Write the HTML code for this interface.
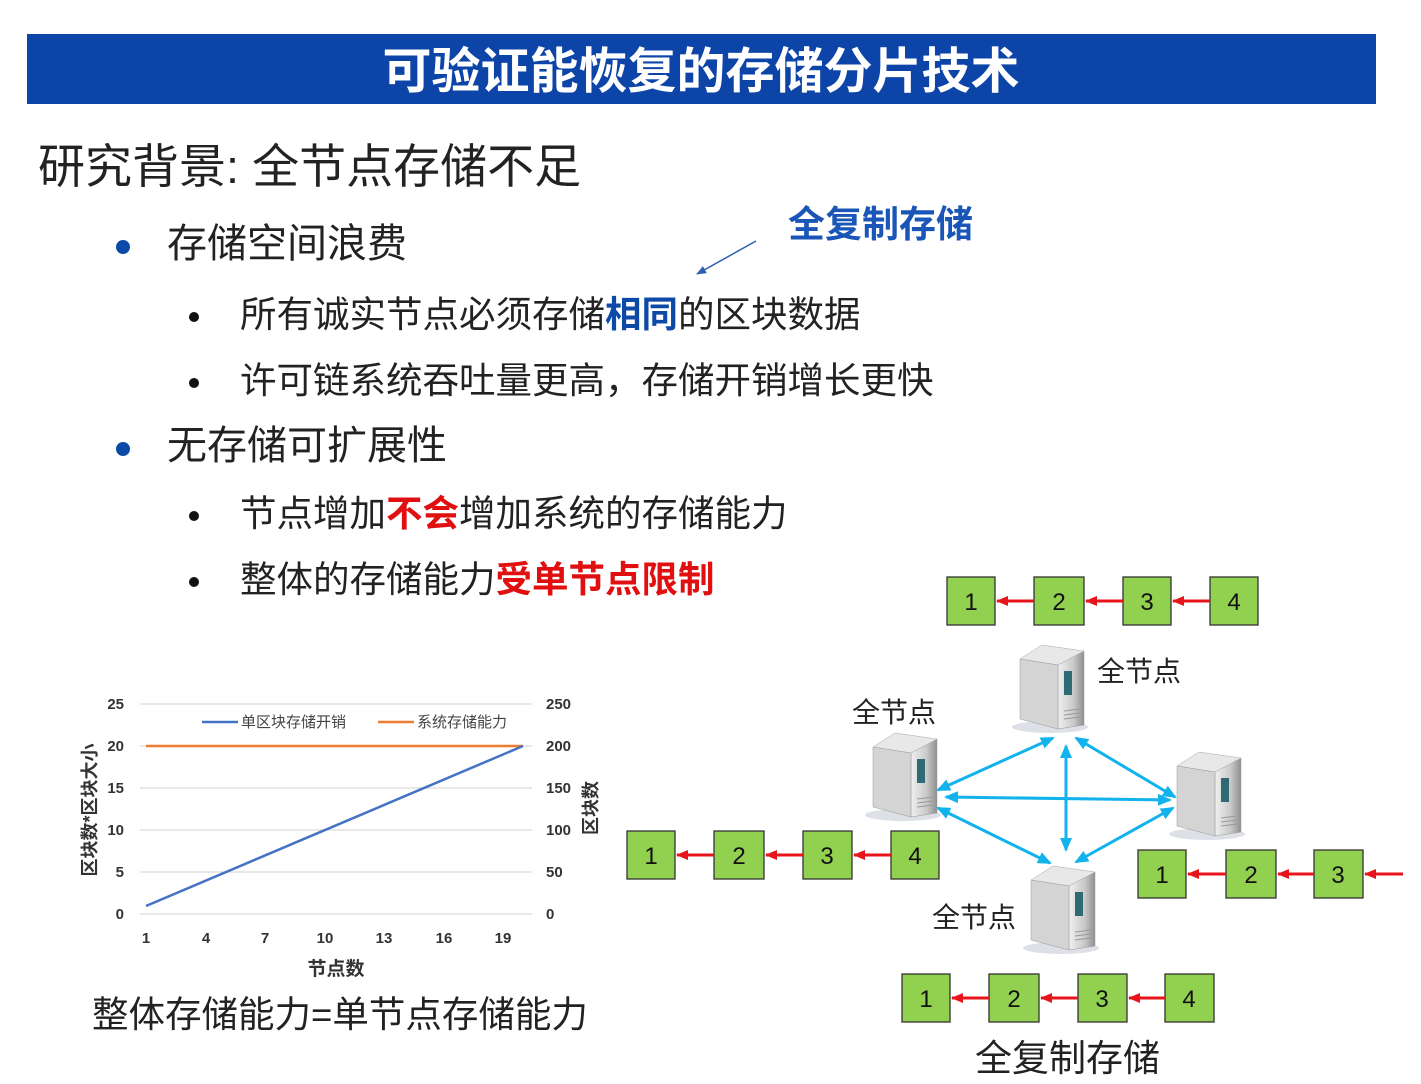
<!DOCTYPE html>
<html><head><meta charset="utf-8"><style>
body{margin:0;background:#fff;}
svg{display:block}
text{font-family:"Liberation Sans","Noto Sans CJK SC",sans-serif;}
</style></head><body>
<svg width="1421" height="1084" viewBox="0 0 1421 1084" xmlns="http://www.w3.org/2000/svg">
<defs>
<marker id="ra" markerWidth="12" markerHeight="10" refX="11" refY="5" orient="auto" markerUnits="userSpaceOnUse"><path d="M0,0 L12,5 L0,10 z" fill="#e8141c"/></marker>
<marker id="ba" markerWidth="14" markerHeight="12" refX="12" refY="6" orient="auto-start-reverse" markerUnits="userSpaceOnUse"><path d="M0,0 L14,6 L0,12 z" fill="#12b3ec"/></marker>
<marker id="na" markerWidth="10" markerHeight="10" refX="9" refY="5" orient="auto" markerUnits="userSpaceOnUse"><path d="M0,1 L10,5 L0,9 z" fill="#2e5fb0"/></marker>
<linearGradient id="sg" x1="0" x2="1"><stop offset="0" stop-color="#f0f0f0"/><stop offset="0.6" stop-color="#c9c9c9"/><stop offset="1" stop-color="#8f8f8f"/></linearGradient>
<linearGradient id="sg2" x1="0" x2="1"><stop offset="0" stop-color="#bdbdbd"/><stop offset="1" stop-color="#e6e6e6"/></linearGradient>
<g id="srv">
<ellipse cx="30" cy="82" rx="38" ry="6" fill="#c8ccd8" opacity="0.6"/>
<path d="M0,14 L22,0 L64,6 L64,80 L38,84 L0,74 z" fill="url(#sg2)"/>
<path d="M38,20 L64,6 L64,80 L38,84 z" fill="url(#sg)" stroke="#999" stroke-width="0.5"/>
<path d="M0,14 L22,0 L64,6 L38,20 z" fill="#e8e8e8" stroke="#aaa" stroke-width="0.5"/>
<path d="M0,14 L38,20 L38,84 L0,74 z" fill="#d4d4d4" stroke="#999" stroke-width="0.5"/>
<rect x="44" y="26" width="8" height="24" fill="#2f6a74"/>
<path d="M44,66 L60,64 M44,70 L60,68 M44,74 L60,72" stroke="#999" stroke-width="1"/>
</g>
</defs>

<rect x="27" y="34" width="1349" height="70" fill="#0d44a8"/>
<text x="701" y="88" font-size="49" font-weight="bold" fill="#fff" text-anchor="middle">可验证能恢复的存储分片技术</text>

<text x="38" y="183" font-size="47" fill="#222">研究背景: 全节点存储不足</text>

<circle cx="123" cy="247" r="7" fill="#0d4aa8"/>
<text x="167" y="257" font-size="40" fill="#222">存储空间浪费</text>
<circle cx="194" cy="317" r="5" fill="#111"/>
<text x="240" y="327" font-size="36.5" fill="#222">所有诚实节点必须存储<tspan fill="#0d4aa8" font-weight="bold">相同</tspan>的区块数据</text>
<circle cx="194" cy="383" r="5" fill="#111"/>
<text x="240" y="393" font-size="36.5" fill="#222">许可链系统吞吐量更高，存储开销增长更快</text>
<circle cx="123" cy="449" r="7" fill="#0d4aa8"/>
<text x="167" y="459" font-size="40" fill="#222">无存储可扩展性</text>
<circle cx="194" cy="516" r="5" fill="#111"/>
<text x="240" y="526" font-size="36.5" fill="#222">节点增加<tspan fill="#e01010" font-weight="bold">不会</tspan>增加系统的存储能力</text>
<circle cx="194" cy="582" r="5" fill="#111"/>
<text x="240" y="592" font-size="36.5" fill="#222">整体的存储能力<tspan fill="#e01010" font-weight="bold">受单节点限制</tspan></text>

<text x="788" y="237" font-size="37" font-weight="bold" fill="#1a56b8">全复制存储</text>
<line x1="756" y1="241" x2="697" y2="274" stroke="#2e5fb0" stroke-width="1.5" marker-end="url(#na)"/>

<!-- chart -->
<g stroke="#d9d9d9" stroke-width="1.2">
<line x1="140" y1="704" x2="532" y2="704"/><line x1="140" y1="746" x2="532" y2="746"/>
<line x1="140" y1="788" x2="532" y2="788"/><line x1="140" y1="830" x2="532" y2="830"/>
<line x1="140" y1="872" x2="532" y2="872"/><line x1="140" y1="914" x2="532" y2="914"/>
</g>
<g font-size="15" font-weight="bold" fill="#333" font-family="Liberation Serif">
<text x="124" y="709" text-anchor="end">25</text><text x="124" y="751" text-anchor="end">20</text>
<text x="124" y="793" text-anchor="end">15</text><text x="124" y="835" text-anchor="end">10</text>
<text x="124" y="877" text-anchor="end">5</text><text x="124" y="919" text-anchor="end">0</text>
<text x="546" y="709">250</text><text x="546" y="751">200</text><text x="546" y="793">150</text>
<text x="546" y="835">100</text><text x="546" y="877">50</text><text x="546" y="919">0</text>
<text x="146" y="943" text-anchor="middle">1</text><text x="206" y="943" text-anchor="middle">4</text>
<text x="265" y="943" text-anchor="middle">7</text><text x="325" y="943" text-anchor="middle">10</text>
<text x="384" y="943" text-anchor="middle">13</text><text x="444" y="943" text-anchor="middle">16</text>
<text x="503" y="943" text-anchor="middle">19</text>
</g>
<line x1="146" y1="746" x2="523" y2="746" stroke="#ed7d31" stroke-width="2.5"/>
<line x1="146" y1="906" x2="523" y2="746" stroke="#4472c4" stroke-width="2.5"/>
<line x1="202" y1="722" x2="238" y2="722" stroke="#4472c4" stroke-width="2.5"/>
<text x="241" y="727" font-size="15" fill="#444">单区块存储开销</text>
<line x1="378" y1="722" x2="414" y2="722" stroke="#ed7d31" stroke-width="2.5"/>
<text x="417" y="727" font-size="15" fill="#444">系统存储能力</text>
<text transform="translate(96,810) rotate(-90)" font-size="18" font-weight="bold" fill="#333" text-anchor="middle">区块数*区块大小</text>
<text transform="translate(597,808) rotate(-90)" font-size="18" font-weight="bold" fill="#333" text-anchor="middle">区块数</text>
<text x="336" y="975" font-size="19" font-weight="bold" fill="#333" text-anchor="middle">节点数</text>
<text x="92" y="1027" font-size="36.5" fill="#222">整体存储能力=单节点存储能力</text>

<!-- block chains -->
<g stroke="#333" stroke-width="1.3" fill="#92d050">
<rect x="947" y="577" width="48" height="48"/><rect x="1034" y="577" width="50" height="48"/><rect x="1123" y="577" width="48" height="48"/><rect x="1210" y="577" width="48" height="48"/>
<rect x="627" y="831" width="48" height="48"/><rect x="714" y="831" width="50" height="48"/><rect x="803" y="831" width="49" height="48"/><rect x="891" y="831" width="48" height="48"/>
<rect x="1138" y="850" width="48" height="48"/><rect x="1226" y="850" width="50" height="48"/><rect x="1314" y="850" width="49" height="48"/>
<rect x="902" y="974" width="48" height="48"/><rect x="989" y="974" width="50" height="48"/><rect x="1078" y="974" width="49" height="48"/><rect x="1165" y="974" width="49" height="48"/>
</g>
<g font-size="24" fill="#111" text-anchor="middle">
<text x="971" y="610">1</text><text x="1059" y="610">2</text><text x="1147" y="610">3</text><text x="1234" y="610">4</text>
<text x="651" y="864">1</text><text x="739" y="864">2</text><text x="827" y="864">3</text><text x="915" y="864">4</text>
<text x="1162" y="883">1</text><text x="1251" y="883">2</text><text x="1338" y="883">3</text>
<text x="926" y="1007">1</text><text x="1014" y="1007">2</text><text x="1102" y="1007">3</text><text x="1189" y="1007">4</text>
</g>
<g stroke="#e8141c" stroke-width="3" marker-end="url(#ra)">
<line x1="1034" y1="601" x2="997" y2="601"/><line x1="1123" y1="601" x2="1086" y2="601"/><line x1="1210" y1="601" x2="1173" y2="601"/>
<line x1="714" y1="855" x2="677" y2="855"/><line x1="803" y1="855" x2="766" y2="855"/><line x1="891" y1="855" x2="854" y2="855"/>
<line x1="1226" y1="874" x2="1188" y2="874"/><line x1="1314" y1="874" x2="1278" y2="874"/><line x1="1403" y1="874" x2="1365" y2="874"/>
<line x1="989" y1="998" x2="952" y2="998"/><line x1="1078" y1="998" x2="1041" y2="998"/><line x1="1165" y1="998" x2="1129" y2="998"/>
</g>

<!-- servers -->
<use href="#srv" x="1020" y="645"/>
<use href="#srv" x="873" y="733"/>
<use href="#srv" x="1177" y="752"/>
<use href="#srv" x="1031" y="866"/>
<text x="1097" y="681" font-size="28" fill="#222">全节点</text>
<text x="852" y="722" font-size="28" fill="#222">全节点</text>
<text x="932" y="927" font-size="28" fill="#222">全节点</text>

<g stroke="#12b3ec" stroke-width="3" marker-start="url(#ba)" marker-end="url(#ba)">
<line x1="938" y1="790" x2="1053" y2="738"/>
<line x1="1076" y1="738" x2="1175" y2="797"/>
<line x1="946" y1="797" x2="1170" y2="800"/>
<line x1="1066" y1="746" x2="1066" y2="850"/>
<line x1="938" y1="808" x2="1050" y2="863"/>
<line x1="1173" y1="808" x2="1076" y2="862"/>
</g>
<text x="975" y="1071" font-size="37" fill="#222">全复制存储</text>
</svg>
</body></html>
